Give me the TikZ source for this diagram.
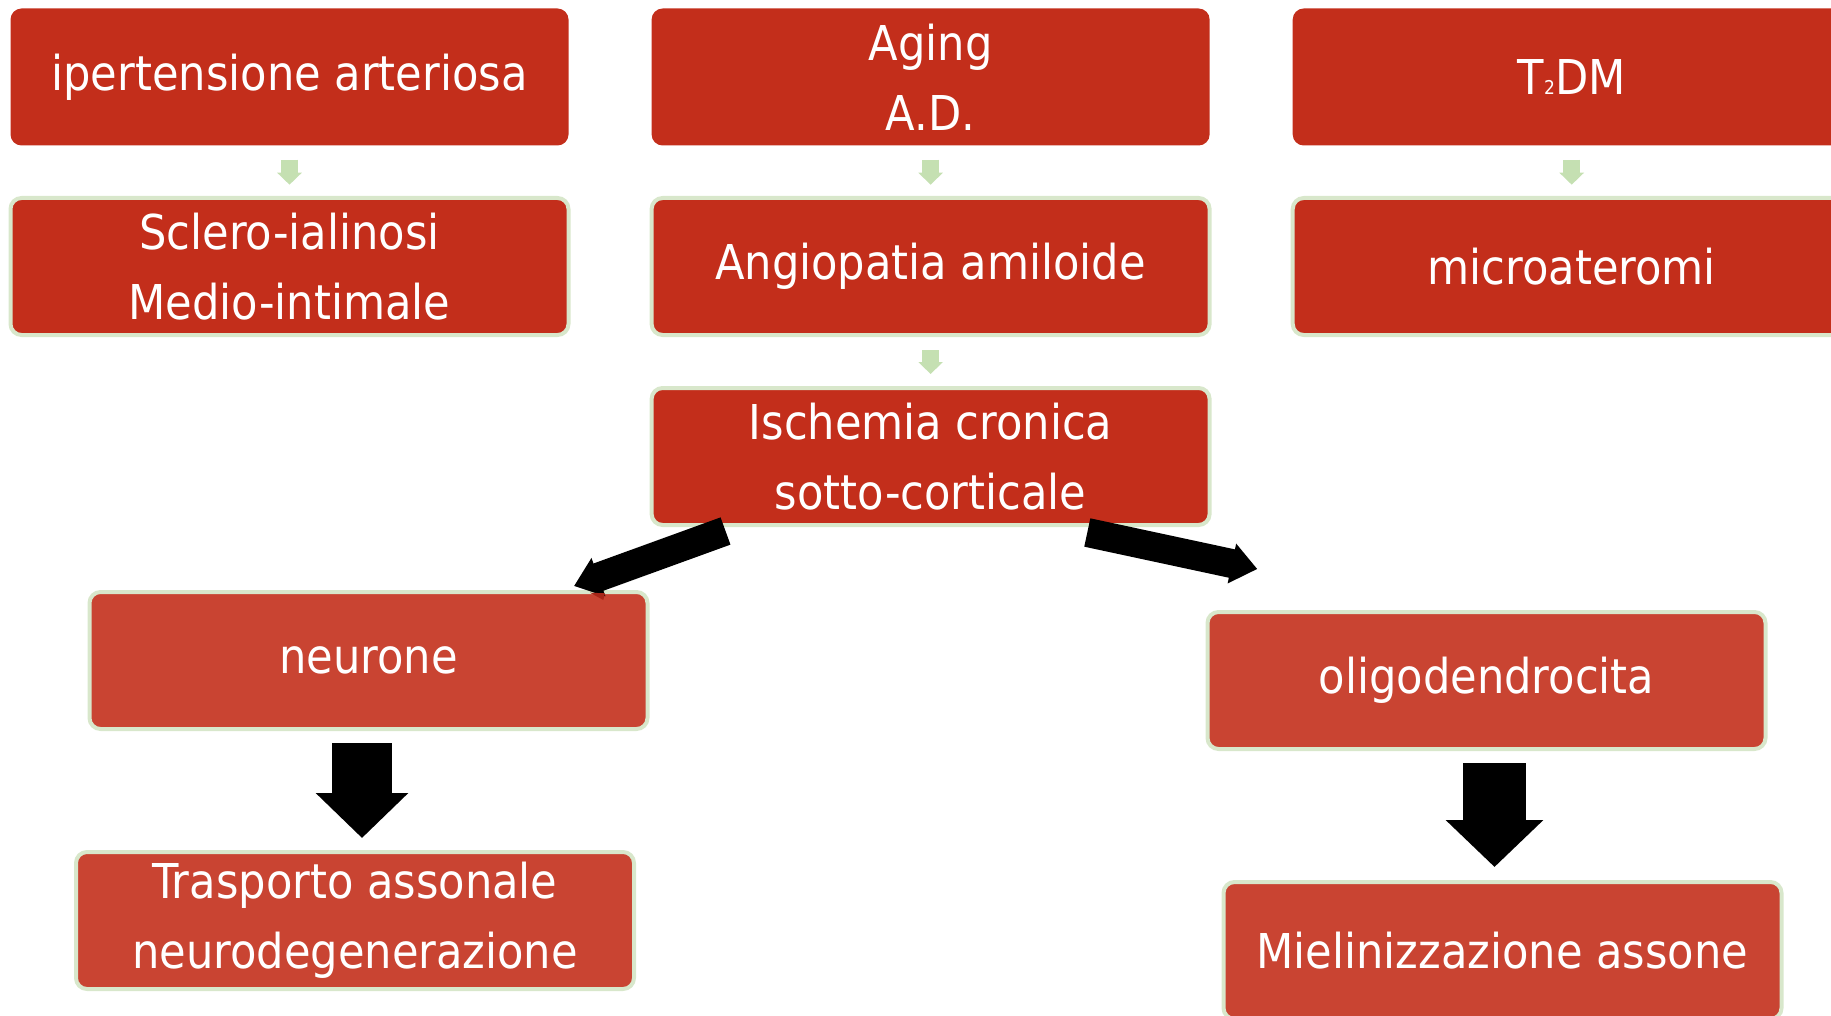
\documentclass[tikz,border=0pt]{standalone}
\usepackage{fontspec}
\setmainfont{DejaVu Sans Condensed}
\usetikzlibrary{arrows.meta}
\definecolor{boxred}{RGB}{195,46,27}
\definecolor{boxredlight}{RGB}{201,68,50}
\definecolor{glow}{RGB}{216,231,203}
\definecolor{garr}{RGB}{197,224,178}
\definecolor{shadowred}{RGB}{168,38,24}
\begin{document}
\begin{tikzpicture}[x=1pt,y=-1pt,
  box/.style={rectangle, rounded corners=11pt, minimum width=558pt, minimum height=137pt,
    inner sep=0pt, align=center, text=white, font=\fontsize{48}{70}\selectfont},
  topbox/.style={box, fill=boxred},
  midbox/.style={box, fill=boxred, draw=glow, line width=4pt},
  lowbox/.style={box, fill=boxredlight, draw=glow, line width=4pt},
  garrow/.style={draw=garr, line width=17pt, -{Triangle[length=12pt,width=24pt]}},
  bigdown/.style={draw=black, line width=60pt, -{Triangle[length=45pt,width=90pt]}},
  bigdownb/.style={draw=black, line width=63pt, -{Triangle[length=47pt,width=95pt]}},
  diag/.style={draw=black, line width=29pt, -{Triangle[length=26pt,width=39pt]}}
]
\useasboundingbox (0,0) rectangle (1831,1016);
% top row
\node[topbox] (hyp)   at (289.5,77) {ipertensione arteriosa};
\node[topbox] (aging) at (930.6,77) {Aging\\A.D.};
\node[topbox] (t2dm)  at (1571.7,77) {T{\fontsize{19}{19}\selectfont 2}DM};
% second row
\node[midbox] (sclero) at (289.5,266.5) {Sclero-ialinosi\\Medio-intimale};
\node[midbox] (angio)  at (930.6,266.5) {Angiopatia amiloide};
\node[midbox] (micro)  at (1571.7,266.5) {microateromi};
% third row
\node[midbox] (isch) at (930.6,456.5) {Ischemia cronica\\sotto-corticale};
% lower boxes
\node[lowbox] (neur)  at (368.5,660.5) {neurone};
\node[lowbox] (trasp) at (355,920.5) {Trasporto assonale\\neurodegenerazione};
\node[lowbox] (oligo) at (1486.5,680.5) {oligodendrocita};
\node[lowbox] (miel)  at (1502.5,950.5) {Mielinizzazione assone};
% small green arrows
\draw[garrow] ([yshift=-14pt]hyp.south) -- ([yshift=-39pt]hyp.south);
\draw[garrow] ([yshift=-14pt]aging.south) -- ([yshift=-39pt]aging.south);
\draw[garrow] ([yshift=-14pt]t2dm.south) -- ([yshift=-39pt]t2dm.south);
\draw[garrow] ([yshift=-13pt]angio.south) -- ([yshift=-37pt]angio.south);
% diagonal black arrows
\coordinate (lt) at (725.5,531);
\coordinate (lh) at (574,586);
\coordinate (rt) at (1087.3,532.5);
\coordinate (rh) at (1257.3,569);
\draw[diag] (lt) -- (lh);
\draw[diag] (rt) -- (rh);
\fill[shadowred] (590,592.7) -- (605,593.3) -- (603.3,600) -- cycle;
% big down arrows
\coordinate (d1a) at (362,743);
\coordinate (d1b) at (362,838);
\coordinate (d2a) at (1494.5,763);
\coordinate (d2b) at (1494.5,867);
\draw[bigdown] (d1a) -- (d1b);
\draw[bigdownb] (d2a) -- (d2b);
\end{tikzpicture}
\end{document}
